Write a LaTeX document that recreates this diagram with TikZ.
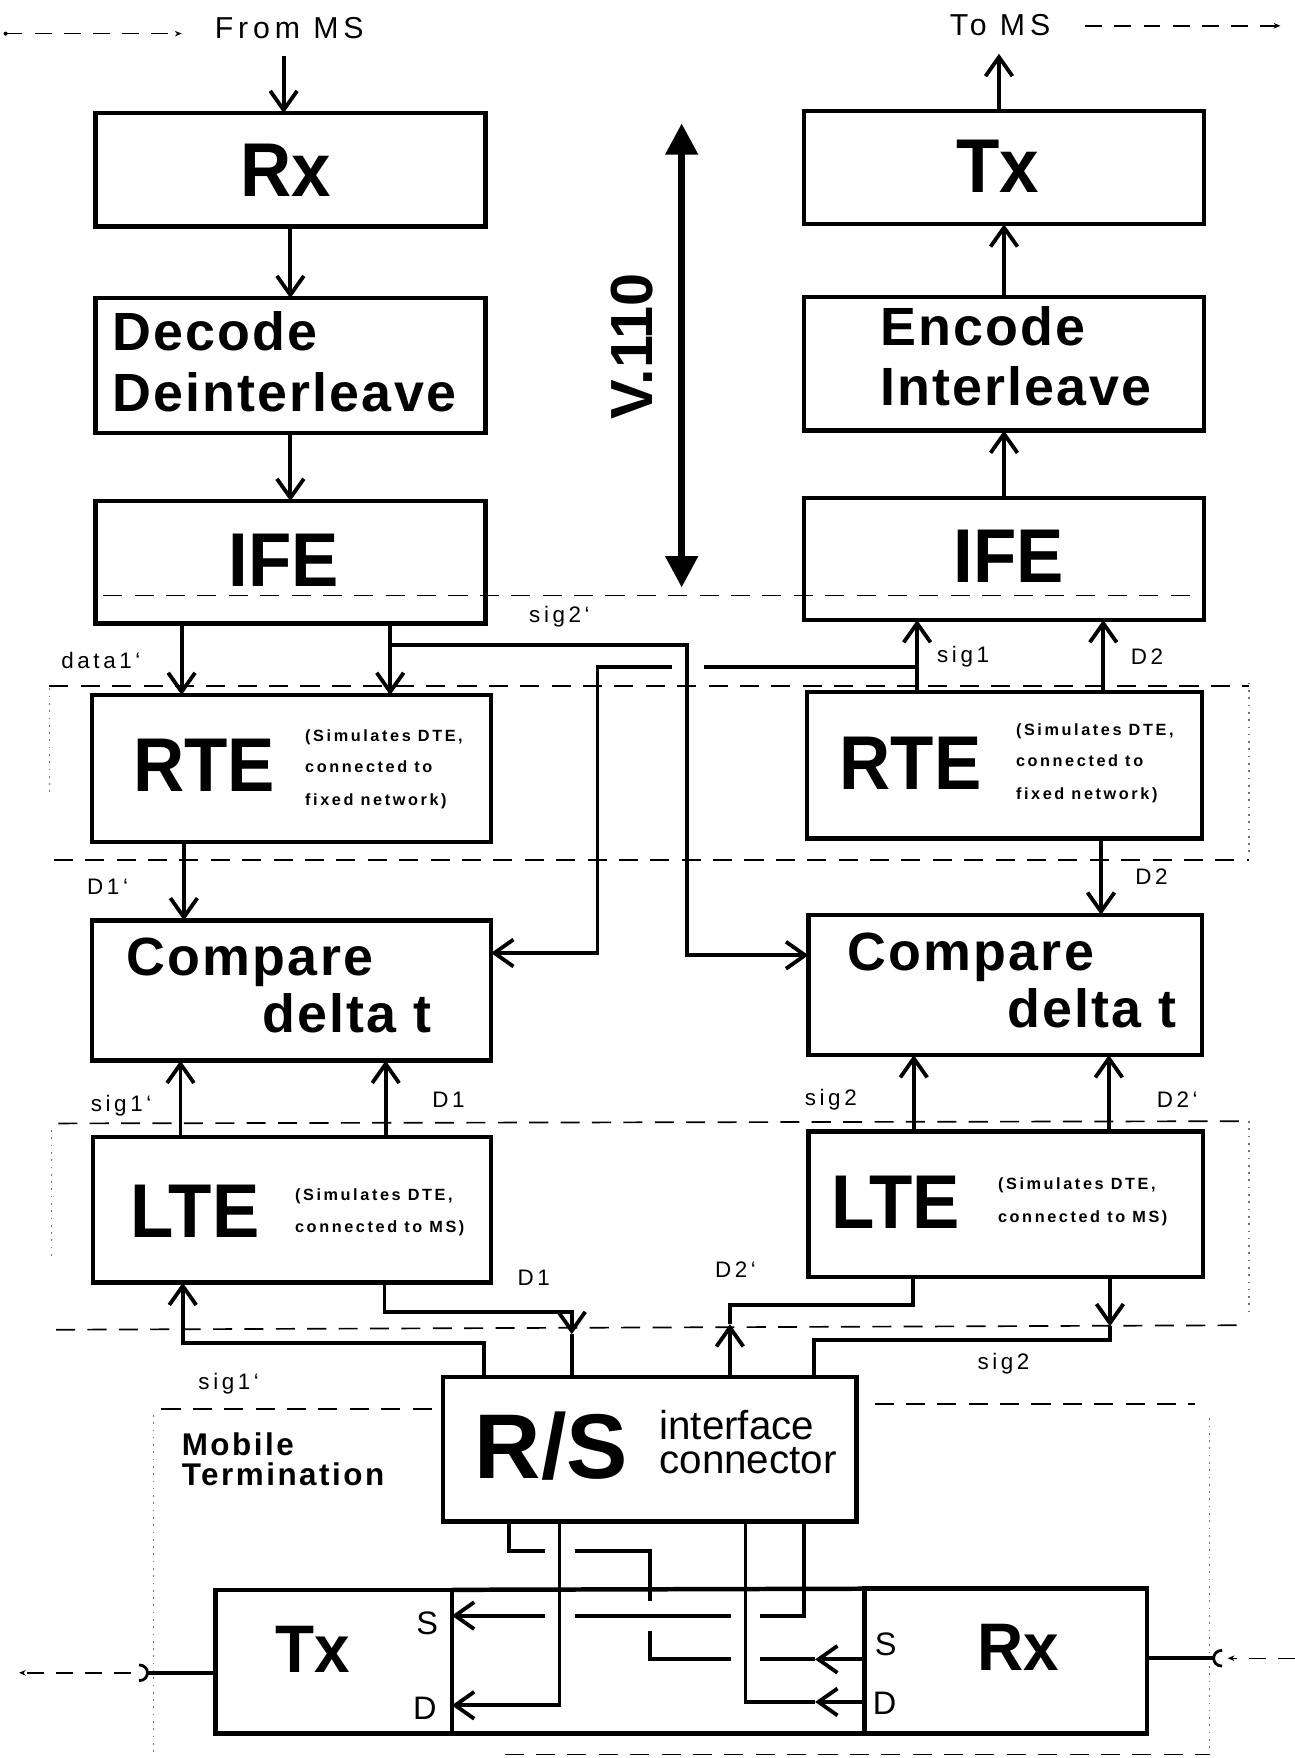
\documentclass[tikz,border=0pt]{standalone}
\usepackage{fontspec}
\setmainfont{Liberation Sans}
\usetikzlibrary{arrows.meta}
\tikzset{
 box/.style={draw, line width=4pt, inner sep=0pt, outer sep=0pt},
 conn/.style={line width=3.4pt},
 region/.style={line width=1.5pt, dash pattern=on 17pt off 11pt},
 dots/.style={line width=1pt, black!55, dash pattern=on 1.5pt off 5pt},
 radio/.style={line width=1.3pt, dash pattern=on 15pt off 11pt},
 bigt/.style={font=\fontsize{68}{68}\selectfont\bfseries\addfontfeatures{FakeStretch=0.93}, inner sep=0pt},
 bigr/.style={font=\fontsize{60}{60}\selectfont\bfseries\addfontfeatures{FakeStretch=0.95}, inner sep=0pt},
 midt/.style={font=\fontsize{48}{48}\selectfont\bfseries\addfontfeatures{LetterSpace=4}, inner sep=0pt, anchor=base west},
 smallt/.style={font=\fontsize{14.5}{14.5}\selectfont\bfseries\addfontfeatures{LetterSpace=16}, inner sep=0pt, anchor=base west},
 lab/.style={font=\fontsize{20}{20}\selectfont\addfontfeatures{LetterSpace=16}, inner sep=0pt},
 toplab/.style={font=\fontsize{27}{27}\selectfont\addfontfeatures{LetterSpace=16}, inner sep=0pt},
 sdlab/.style={font=\fontsize{29}{29}\selectfont, inner sep=0pt},
}
\begin{document}
\begin{tikzpicture}[x=1pt,y=-1pt,>={Straight Barb[length=17pt,width=24pt]}]
\useasboundingbox (0,0) rectangle (1155,1568);
\fill[white] (0,0) rectangle (1155,1568);

% ---------- region separators ----------
\draw[region] (92,531) -- (1073,531);
\draw[region] (44,612) -- (1114,612);
\draw[dots] (44,614) -- (44,708);
\draw[dots] (1114,609) -- (1114,761);
\draw[region] (48,767) -- (1114,767);
\draw[region] (52,1002) -- (1114,1000);
\draw[dots] (46,1008) -- (46,1125);
\draw[dots] (1114,1000) -- (1114,1170);
\draw[region] (50,1186) -- (1112,1182);
\draw[region] (144,1257) -- (394,1257);
\draw[region] (780,1252) -- (1066,1252);
\draw[dots] (137,1262) -- (137,1565);
\draw[dots] (1079,1265) -- (1079,1562);
\draw[region] (450,1565) -- (1079,1565);

% ---------- boxes ----------
\node[box, minimum width=348pt, minimum height=101pt] (rxT) at (259,151.5) {};
\node[box, minimum width=348pt, minimum height=120pt] (dec) at (259,326) {};
\node[box, minimum width=348pt, minimum height=109pt] (ifeL) at (259,501.5) {};
\node[box, minimum width=357pt, minimum height=101pt] (txT) at (895.5,149.5) {};
\node[box, minimum width=357pt, minimum height=119pt] (enc) at (895.5,324.5) {};
\node[box, minimum width=357pt, minimum height=109pt] (ifeR) at (895.5,498.5) {};
\node[box, minimum width=356pt, minimum height=131pt] (rteL) at (260,685.5) {};
\node[box, minimum width=352pt, minimum height=131pt] (rteR) at (896,682.5) {};
\node[box, minimum width=356pt, minimum height=125pt] (cmpL) at (260,883.5) {};
\node[box, minimum width=351pt, minimum height=125pt] (cmpR) at (896.5,878.5) {};
\node[box, minimum width=355pt, minimum height=130pt] (lteL) at (260.5,1079) {};
\node[box, minimum width=352pt, minimum height=130pt] (lteR) at (897,1074) {};
\node[box, minimum width=369pt, minimum height=129pt] (rs) at (579.5,1292.5) {};
\node[box, minimum width=211pt, minimum height=128pt] (txB) at (297.5,1482) {};
\node[box, minimum width=252pt, minimum height=129pt] (rxB) at (897,1481.5) {};
\draw[line width=4pt] (txB.north east) -- (rxB.north west);
\draw[line width=4pt] (txB.south east) -- (rxB.south west);

% ---------- texts ----------
\node[toplab] (fromms) at (258,25) {From MS};
\node[toplab] (toms) at (892,22) {To MS};
\node[bigt] (tRxT) at (255,152) {Rx};
\node[bigt] (tTxT) at (890,148) {Tx};
\node[midt] (tDec1) at (100,313) {Decode};
\node[midt] (tDec2) at (100,367) {Deinterleave};
\node[midt] (tEnc1) at (785,308) {Encode};
\node[midt] (tEnc2) at (785,362) {Interleave};
\node[bigt] (tIfeL) at (253,500) {IFE};
\node[bigt] (tIfeR) at (900,496) {IFE};
\node[bigt] (tRteL) at (182,683) {RTE};
\node[bigt] (tRteR) at (812,681) {RTE};
\node[smallt] (sR1) at (272,661) {(Simulates DTE,};
\node[smallt] (sR2) at (272,689) {connected to};
\node[smallt] (sR3) at (272,718) {fixed network)};
\node[smallt] (sR4) at (906,656) {(Simulates DTE,};
\node[smallt] (sR5) at (906,684) {connected to};
\node[smallt] (sR6) at (906,713) {fixed network)};
\node[midt] (tCmp1) at (113,870) {Compare};
\node[midt] (tCmp2) at (234,921) {delta t};
\node[midt] (tCmp3) at (756,866) {Compare};
\node[midt] (tCmp4) at (898,916) {delta t};
\node[bigt] (tLteL) at (174,1080) {LTE};
\node[bigt] (tLteR) at (799,1072) {LTE};
\node[smallt] (sL1) at (263,1071) {(Simulates DTE,};
\node[smallt] (sL2) at (263,1099) {connected to MS)};
\node[smallt] (sL3) at (890,1061) {(Simulates DTE,};
\node[smallt] (sL4) at (890,1090) {connected to MS)};
\node[font=\fontsize{82}{82}\selectfont\bfseries, inner sep=0pt] (tRS) at (492,1290) {R/S};
\node[font=\fontsize{36}{30}\selectfont, inner sep=0pt, align=left, anchor=north west] (tIf) at (588,1258) {interface\\connector};
\node[font=\fontsize{28}{26}\selectfont\bfseries\addfontfeatures{LetterSpace=8}, inner sep=0pt, align=left, anchor=north west] (tMob) at (162,1278) {Mobile\\Termination};
\node[bigr] (tTxB) at (279,1471) {Tx};
\node[bigr] (tRxB) at (908,1469) {Rx};
\node[sdlab] (sTx) at (381,1448) {S};
\node[sdlab] (dTx) at (379,1524) {D};
\node[sdlab] (sRx) at (790,1467) {S};
\node[sdlab] (dRx) at (789,1519) {D};
\node[font=\fontsize{53}{53}\selectfont\bfseries, inner sep=0pt, rotate=90] (tV) at (564,309) {V.110};

% labels
\node[lab] (l1) at (90,589) {data1‘};
\node[lab] (l2) at (499,550) {sig2‘};
\node[lab] (l3) at (859,586) {sig1};
\node[lab] (l4) at (1023,586) {D2};
\node[lab] (l5) at (96,791) {D1‘};
\node[lab] (l6) at (1027,782) {D2};
\node[lab] (l7) at (108,986) {sig1‘};
\node[lab] (l8) at (400,981) {D1};
\node[lab] (l9) at (741,981) {sig2};
\node[lab] (l10) at (1050,981) {D2‘};
\node[lab] (l11) at (476,1140) {D1};
\node[lab] (l12) at (656,1132) {D2‘};
\node[lab] (l13) at (204,1234) {sig1‘};
\node[lab] (l14) at (895,1216) {sig2};

% ---------- V.110 double arrow ----------
\coordinate (v1) at (608,110);
\coordinate (v2) at (608,524);
\draw[line width=6pt, {Triangle[length=28pt,width=28pt]}-{Triangle[length=28pt,width=28pt]}] (v1) -- (v2);

% ---------- radio links ----------
\coordinate (r1) at (5,30);
\coordinate (r2) at (162,30);
\draw[radio, -{Stealth[length=6pt,width=5pt]}] (r1) -- (r2);
\fill (r1) circle (1.8pt);
\coordinate (r3) at (968,23);
\coordinate (r4) at (1142,23);
\draw[radio, -{Stealth[length=6pt,width=5pt]}] (r3) -- (r4);

% ---------- top connectors ----------
\coordinate (a1) at (253,50);
\draw[conn,->] (a1) -- (a1 |- rxT.north);
\draw[conn,->] (rxT.south) -- (dec.north);
\draw[conn,->] (dec.south) -- (ifeL.north);
\coordinate (a2) at (891,48);
\draw[conn,->] (a2 |- txT.north) -- (a2);
\draw[conn,->] (enc.north) -- (txT.south);
\draw[conn,->] (ifeR.north) -- (enc.south);

% data1' and sig2'
\coordinate (xa) at (162,0);
\draw[conn,->] (ifeL.south -| xa) -- (rteL.north -| xa);
\coordinate (j1) at (348,575);
\draw[conn,->] (ifeL.south -| j1) -- (rteL.north -| j1);
\draw[conn,->] (j1) -- (613,575) -- (613,852) -- (cmpR.west |- 0,852);

% sig1 and D2 up to IFE right
\coordinate (j2) at (818,595);
\draw[conn,->] (rteR.north -| j2) -- (ifeR.south -| j2);
\coordinate (xb) at (984,0);
\draw[conn,->] (rteR.north -| xb) -- (ifeR.south -| xb);
\coordinate (g1) at (628,595);
\coordinate (g2) at (599,595);
\draw[conn] (j2) -- (g1);
\draw[conn,->] (g2) -- (533,595) -- (533,850) -- (cmpL.east |- 0,850);

% RTE -> Compare
\coordinate (xc) at (164,0);
\draw[conn,->] (rteL.south -| xc) -- (cmpL.north -| xc);
\coordinate (xd) at (982,0);
\draw[conn,->] (rteR.south -| xd) -- (cmpR.north -| xd);

% LTE -> Compare
\coordinate (xe) at (161,0);
\draw[conn,->] (lteL.north -| xe) -- (cmpL.south -| xe);
\coordinate (xf) at (344,0);
\draw[conn,->] (lteL.north -| xf) -- (cmpL.south -| xf);
\coordinate (xg) at (815,0);
\draw[conn,->] (lteR.north -| xg) -- (cmpR.south -| xg);
\coordinate (xh) at (989,0);
\draw[conn,->] (lteR.north -| xh) -- (cmpR.south -| xh);

% LTE <-> R/S
\coordinate (m1) at (510,1190);
\draw[conn,->] (lteL.south -| 343,0) -- (343,1170) -- (510,1170) -- (m1);
\draw[conn] (m1) -- (rs.north -| m1);
\draw[conn,->] (rs.north -| 432,0) -- (432,1198) -- (163,1198) -- (lteL.south -| 163,0);
\coordinate (m2) at (651,1181);
\draw[conn,->] (rs.north -| m2) -- (m2);
\draw[conn] (m2) -- (651,1164) -- (814,1164) -- (lteR.south -| 814,0);
\coordinate (m3) at (990,1183);
\draw[conn,->] (lteR.south -| m3) -- (m3);
\draw[conn] (m3) -- (990,1195) -- (726,1195) -- (rs.north -| 726,0);

% ---------- bottom wiring ----------
\draw[conn,->] (rs.south -| 499,0) -- (499,1521) -- (txB.east |- 0,1521);
\draw[conn] (rs.south -| 717,0) -- (717,1441) -- (678,1441);
\draw[conn] (652,1441) -- (513,1441);
\draw[conn,->] (486,1441) -- (txB.east |- 0,1441);
\coordinate (m4) at (727,1518);
\draw[conn,->] (rxB.west |- m4) -- (m4);
\draw[conn] (m4) -- (665,1518) -- (rs.south -| 665,0);
\coordinate (m5) at (727,1480);
\draw[conn,->] (rxB.west |- m5) -- (m5);
\draw[conn] (m5) -- (678,1480);
\draw[conn] (652,1480) -- (580,1480) -- (580,1455);
\draw[conn] (580,1428) -- (580,1383) -- (513,1383);
\draw[conn] (486,1383) -- (454,1383) -- (rs.south -| 454,0);

% antenna connections
\coordinate (c1) at (131,1492);
\draw[conn] (txB.west |- c1) -- (c1);
\draw[line width=2.5pt] (124,1485) .. controls (134,1485) and (134,1499) .. (124,1499);
\coordinate (c2) at (117,1492);
\coordinate (c3) at (17,1492);
\draw[radio, -{Stealth[length=6pt,width=5pt]}] (c2) -- (c3);
\coordinate (c4) at (1082,1479);
\draw[conn] (rxB.east |- c4) -- (c4);
\draw[line width=2.5pt] (1090,1472) .. controls (1080,1472) and (1080,1486) .. (1090,1486);
\coordinate (c5) at (1155,1479);
\coordinate (c6) at (1095,1479);
\draw[radio, -{Stealth[length=6pt,width=5pt]}] (c5) -- (c6);
\end{tikzpicture}
\end{document}
